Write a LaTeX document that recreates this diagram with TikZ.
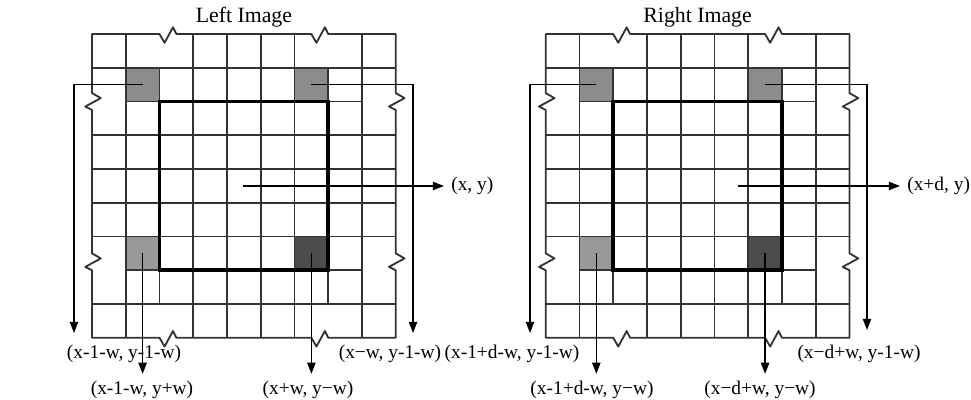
\documentclass[tikz,border=0pt]{standalone}
\usepackage{fontspec}
\setmainfont{Liberation Serif}
\usetikzlibrary{arrows.meta}
\definecolor{greyA}{gray}{.55}
\definecolor{greyB}{gray}{.6}
\definecolor{greyC}{gray}{.3}
\begin{document}
\begin{tikzpicture}[x=0.025cm,y=-0.025cm,
  grid/.style={draw=black!80,line width=1.3pt,line join=round},
  frame/.style={draw=black,line width=2.6pt},
  arr/.style={draw=black,line width=.9pt,-{Triangle[length=8pt,width=6pt]}},
  lbl/.style={font=\fontsize{13.8}{16}\selectfont,inner sep=5pt}]
  \useasboundingbox (0,0) rectangle (971,400);
  \def\C{33.75}
  \foreach \ox/\sd/\ttl in {92/l/Left Image,545.7/r/Right Image}{
    \begin{scope}[shift={(\ox,34)},scale=\C]
      \fill[greyA] (1,1) rectangle (2,2) (6,1) rectangle (7,2);
      \fill[greyB] (1,6) rectangle (2,7);
      \fill[greyC] (6,6) rectangle (7,7);
      \foreach \i in {1,3,4,5,6,8}{
        \draw[grid] (\i,0)--(\i,9);
        \draw[grid] (0,\i)--(9,\i);}
      \foreach \i in {2,7}{
        \draw[grid] (\i,1)--(\i,8);
        \draw[grid] (1,\i)--(8,\i);}
      % border with break marks
      \draw[grid] (0,0)--(2,0)--(2.15,.26)--(2.4,-.2)--(2.5,0)--(6.5,0)--(6.65,.26)--(6.9,-.2)--(7,0)--(9,0)
        --(9,1.75)--(9.26,1.9)--(8.8,2.15)--(9,2.25)--(9,6.5)--(9.26,6.65)--(8.8,6.9)--(9,7)--(9,9)
        --(7,9)--(6.9,8.8)--(6.65,9.26)--(6.5,9)--(2.5,9)--(2.4,8.8)--(2.15,9.26)--(2,9)--(0,9)
        --(0,7)--(-.2,6.9)--(.26,6.65)--(0,6.5)--(0,2.25)--(-.2,2.15)--(.26,1.9)--(0,1.75)--cycle;
      \draw[frame] (2,2) rectangle (7,7);
      \coordinate (\sd-tl) at (1.5,1.5);
      \coordinate (\sd-tr) at (6.5,1.5);
      \coordinate (\sd-bl) at (1.5,6.5);
      \coordinate (\sd-br) at (6.5,6.5);
      \node[font=\fontsize{15.5}{18}\selectfont] (\sd-title) at (4.5,-.5) {\ttl};
    \end{scope}
  }
  % left image
  \coordinate (l-mid) at (243,186);
  \coordinate (l-tlend) at (74,333);
  \coordinate (l-trend) at (413,333);
  \node[lbl] (l-tll) at (124,354) {(x-1-w, y-1-w)};
  \node[lbl] (l-trl) at (390,354) {(x−w, y-1-w)};
  \node[lbl] (l-bll) at (142,390) {(x-1-w, y+w)};
  \node[lbl] (l-brl) at (308,390) {(x+w, y−w)};
  \node[lbl,anchor=west] (l-xy) at (444,186) {(x, y)};
  \draw[arr] (l-tl) -| (l-tlend);
  \draw[arr] (l-tr) -| (l-trend);
  \draw[arr] (l-bl) -- (l-bl |- l-bll.north);
  \draw[arr] (l-br) -- (l-br |- l-brl.north);
  \draw[arr] (l-mid) -- (l-xy.west);
  % right image
  \coordinate (r-mid) at (738,186);
  \coordinate (r-tlend) at (530,333);
  \coordinate (r-trend) at (867,330);
  \node[lbl] (r-tll) at (512,354) {(x-1+d-w, y-1-w)};
  \node[lbl] (r-trl) at (859,354) {(x−d+w, y-1-w)};
  \node[lbl] (r-bll) at (592,390) {(x-1+d-w, y−w)};
  \node[lbl] (r-brl) at (760,390) {(x−d+w, y−w)};
  \node[lbl,anchor=west] (r-xy) at (900,186) {(x+d, y)};
  \draw[arr] (r-tl) -| (r-tlend);
  \draw[arr] (r-tr) -| (r-trend);
  \draw[arr] (r-bl) -- (r-bl |- r-bll.north);
  \draw[arr] (r-br) -- (r-br |- r-brl.north);
  \draw[arr] (r-mid) -- (r-xy.west);
\end{tikzpicture}
\end{document}
